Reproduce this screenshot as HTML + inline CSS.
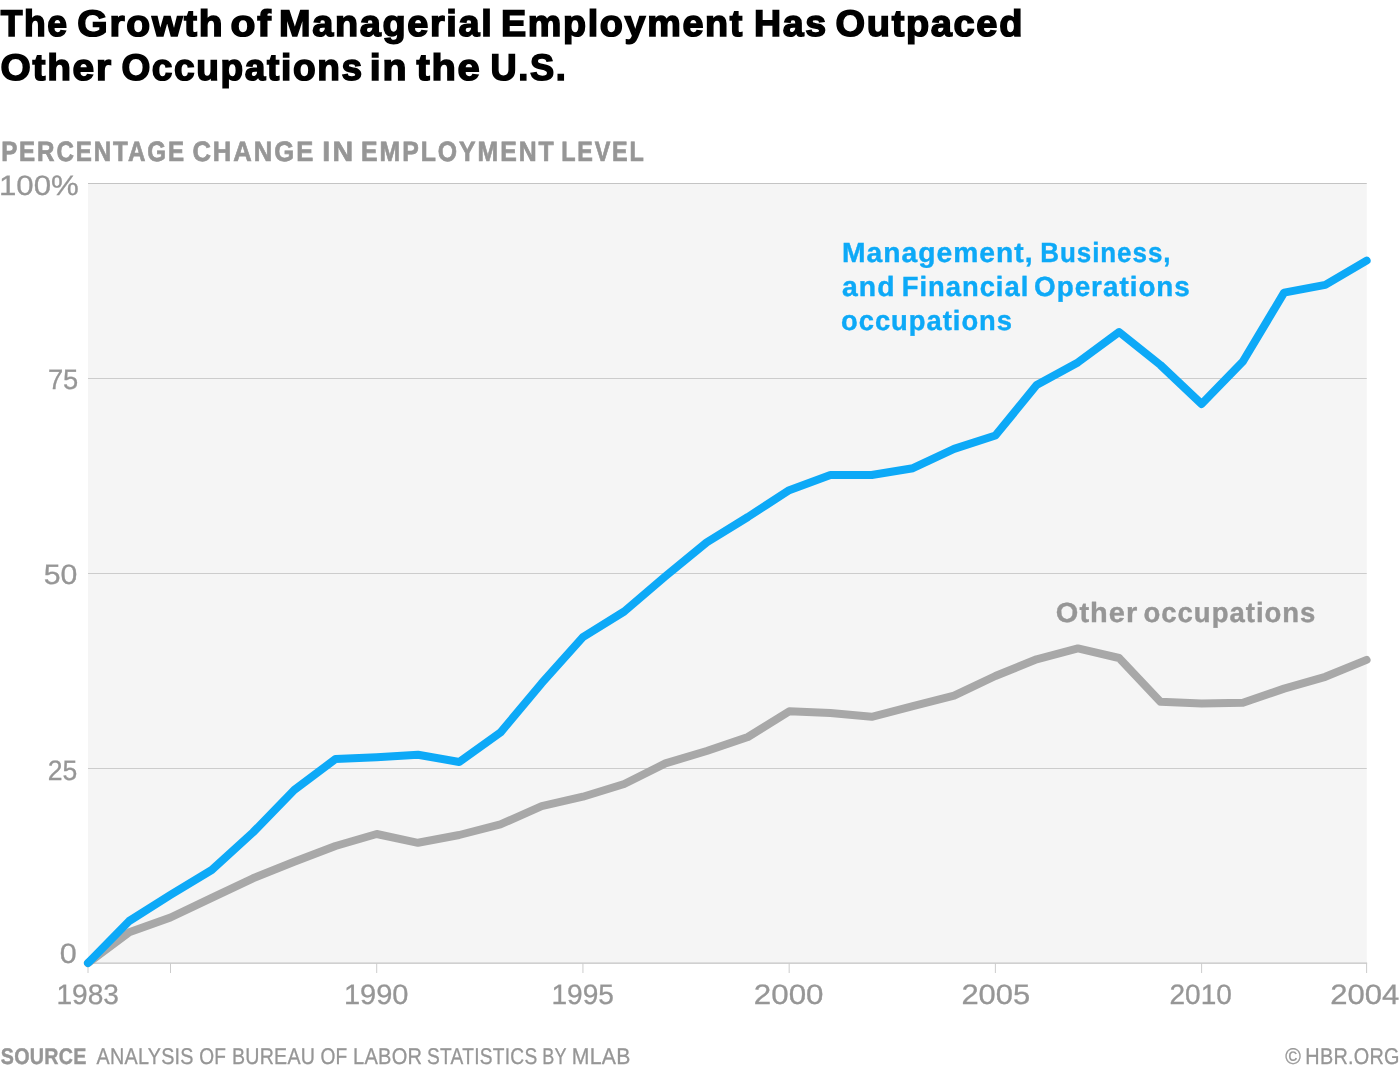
<!DOCTYPE html>
<html lang="en">
<head>
<meta charset="utf-8">
<title>The Growth of Managerial Employment Has Outpaced Other Occupations in the U.S.</title>
<style>
  html, body { margin:0; padding:0; background:#fff; }
  body { width:1400px; height:1071px; overflow:hidden; position:relative; font-family:"Liberation Sans", sans-serif; }
  svg { position:absolute; left:0; top:0; display:block; }
  text { font-family:"Liberation Sans", sans-serif; white-space:pre; stroke-linejoin:miter; stroke-miterlimit:3; text-rendering:geometricPrecision; }
</style>
</head>
<body>
<svg width="1400" height="1071" viewBox="0 0 1400 1071">
  <rect x="0" y="0" width="1400" height="1071" fill="#ffffff"/>
  <rect x="88" y="183" width="1278.75" height="780" fill="#f5f5f5"/>
  <g stroke="#cccccc" stroke-width="1">
    <line x1="88" y1="183.5" x2="1366.75" y2="183.5" stroke="#c4c4c4"/>
    <line x1="88" y1="378.5" x2="1366.75" y2="378.5"/>
    <line x1="88" y1="573.5" x2="1366.75" y2="573.5"/>
    <line x1="88" y1="768.5" x2="1366.75" y2="768.5"/>
    <line x1="87.5" y1="962.5" x2="1367.1" y2="962.5" stroke="#dddddd"/>
    <line x1="87.5" y1="963.5" x2="1367.1" y2="963.5" stroke="#d0d0d0"/>
    <line x1="88.00" y1="963" x2="88.00" y2="973"/>
    <line x1="170.49" y1="963" x2="170.49" y2="973"/>
    <line x1="376.71" y1="963" x2="376.71" y2="973"/>
    <line x1="582.94" y1="963" x2="582.94" y2="973"/>
    <line x1="789.16" y1="963" x2="789.16" y2="973"/>
    <line x1="995.39" y1="963" x2="995.39" y2="973"/>
    <line x1="1201.62" y1="963" x2="1201.62" y2="973"/>
    <line x1="1366.60" y1="963" x2="1366.60" y2="973"/>
  </g>
  <path d="M88.0,963.0 L129.2,932.3 L170.5,917.5 L211.7,897.8 L253.0,878.3 L294.2,861.7 L335.5,846.0 L376.7,834.0 L418.0,842.8 L459.2,835.0 L500.4,824.4 L541.7,806.2 L582.9,796.7 L624.2,784.0 L665.4,763.4 L706.7,751.0 L747.9,737.0 L789.2,711.3 L830.4,713.0 L871.7,716.8 L912.9,706.2 L954.1,695.7 L995.4,676.0 L1036.6,659.3 L1077.9,648.4 L1119.1,658.0 L1160.4,701.7 L1201.6,703.4 L1242.9,702.8 L1284.1,688.6 L1325.3,676.8 L1366.6,659.9" fill="none" stroke="#a8a8a8" stroke-width="8" stroke-linecap="round" stroke-linejoin="round"/>
  <path d="M88.0,963.0 L129.2,921.0 L170.5,894.9 L211.7,870.0 L253.0,832.4 L294.2,790.0 L335.5,759.0 L376.7,757.3 L418.0,754.7 L459.2,762.0 L500.4,732.6 L541.7,683.2 L582.9,637.1 L624.2,611.5 L665.4,576.3 L706.7,542.3 L747.9,517.0 L789.2,490.2 L830.4,475.0 L871.7,475.0 L912.9,468.2 L954.1,448.9 L995.4,435.5 L1036.6,385.0 L1077.9,362.4 L1119.1,332.0 L1160.4,365.0 L1201.6,404.0 L1242.9,361.5 L1284.1,292.6 L1325.3,284.9 L1366.6,260.6" fill="none" stroke="#0da9f7" stroke-width="8" stroke-linecap="round" stroke-linejoin="round"/>
  <text y="36.05" font-size="37" font-weight="bold" letter-spacing="1.6" fill="#000" stroke="#000" stroke-width="1.5"><tspan x="0.80" textLength="67.93" lengthAdjust="spacingAndGlyphs">The</tspan> <tspan x="77.34" textLength="146.92" lengthAdjust="spacingAndGlyphs">Growth</tspan> <tspan x="230.50" textLength="42.04" lengthAdjust="spacingAndGlyphs">of</tspan> <tspan x="278.95" textLength="214.43" lengthAdjust="spacingAndGlyphs">Managerial</tspan> <tspan x="500.96" textLength="243.11" lengthAdjust="spacingAndGlyphs">Employment</tspan> <tspan x="753.97" textLength="73.76" lengthAdjust="spacingAndGlyphs">Has</tspan> <tspan x="835.57" textLength="188.46" lengthAdjust="spacingAndGlyphs">Outpaced</tspan></text>
  <text y="79.85" font-size="37" font-weight="bold" letter-spacing="1.6" fill="#000" stroke="#000" stroke-width="1.5"><tspan x="0.55" textLength="112.23" lengthAdjust="spacingAndGlyphs">Other</tspan> <tspan x="121.40" textLength="242.31" lengthAdjust="spacingAndGlyphs">Occupations</tspan> <tspan x="369.87" textLength="38.42" lengthAdjust="spacingAndGlyphs">in</tspan> <tspan x="416.40" textLength="65.10" lengthAdjust="spacingAndGlyphs">the</tspan> <tspan x="490.62" textLength="76.67" lengthAdjust="spacingAndGlyphs">U.S.</tspan></text>
  <text y="160.50" font-size="28" font-weight="bold" letter-spacing="2.2" fill="#969696" stroke="#969696" stroke-width="0.7"><tspan x="1.14" textLength="184.82" lengthAdjust="spacingAndGlyphs">PERCENTAGE</tspan> <tspan x="192.39" textLength="122.94" lengthAdjust="spacingAndGlyphs">CHANGE</tspan> <tspan x="322.38" textLength="33.10" lengthAdjust="spacingAndGlyphs">IN</tspan> <tspan x="361.11" textLength="194.57" lengthAdjust="spacingAndGlyphs">EMPLOYMENT</tspan> <tspan x="561.17" textLength="84.50" lengthAdjust="spacingAndGlyphs">LEVEL</tspan></text>
  <text y="194.70" font-size="28.1" fill="#969696" stroke="#969696" stroke-width="0.3"><tspan x="-1.02" textLength="79.77" lengthAdjust="spacingAndGlyphs">100%</tspan></text>
  <text y="388.70" font-size="28.1" fill="#969696" stroke="#969696" stroke-width="0.3"><tspan x="47.93" textLength="30.39" lengthAdjust="spacingAndGlyphs">75</tspan></text>
  <text y="583.70" font-size="28.1" fill="#969696" stroke="#969696" stroke-width="0.3"><tspan x="43.82" textLength="33.62" lengthAdjust="spacingAndGlyphs">50</tspan></text>
  <text y="779.70" font-size="28.1" fill="#969696" stroke="#969696" stroke-width="0.3"><tspan x="47.86" textLength="29.53" lengthAdjust="spacingAndGlyphs">25</tspan></text>
  <text y="962.90" font-size="28.1" fill="#969696" stroke="#969696" stroke-width="0.3"><tspan x="59.71" textLength="16.96" lengthAdjust="spacingAndGlyphs">0</tspan></text>
  <text y="1003.70" font-size="28.1" fill="#969696" stroke="#969696" stroke-width="0.3"><tspan x="56.50" textLength="62.50" lengthAdjust="spacingAndGlyphs">1983</tspan></text>
  <text y="1003.70" font-size="28.1" fill="#969696" stroke="#969696" stroke-width="0.3"><tspan x="343.93" textLength="64.58" lengthAdjust="spacingAndGlyphs">1990</tspan></text>
  <text y="1003.70" font-size="28.1" fill="#969696" stroke="#969696" stroke-width="0.3"><tspan x="551.50" textLength="62.50" lengthAdjust="spacingAndGlyphs">1995</tspan></text>
  <text y="1003.70" font-size="28.1" fill="#969696" stroke="#969696" stroke-width="0.3"><tspan x="753.89" textLength="69.67" lengthAdjust="spacingAndGlyphs">2000</tspan></text>
  <text y="1003.70" font-size="28.1" fill="#969696" stroke="#969696" stroke-width="0.3"><tspan x="961.40" textLength="68.75" lengthAdjust="spacingAndGlyphs">2005</tspan></text>
  <text y="1003.70" font-size="28.1" fill="#969696" stroke="#969696" stroke-width="0.3"><tspan x="1169.50" textLength="62.30" lengthAdjust="spacingAndGlyphs">2010</tspan></text>
  <text y="1003.70" font-size="28.1" fill="#969696" stroke="#969696" stroke-width="0.3"><tspan x="1330.20" textLength="68.95" lengthAdjust="spacingAndGlyphs">2004</tspan></text>
  <text y="262.05" font-size="27.8" font-weight="bold" letter-spacing="1.0" fill="#0da9f7" stroke="#0da9f7" stroke-width="0.4"><tspan x="841.98" textLength="191.60" lengthAdjust="spacingAndGlyphs">Management,</tspan> <tspan x="1040.26" textLength="131.21" lengthAdjust="spacingAndGlyphs">Business,</tspan></text>
  <text y="295.70" font-size="27.8" font-weight="bold" letter-spacing="1.0" fill="#0da9f7" stroke="#0da9f7" stroke-width="0.4"><tspan x="842.00" textLength="53.47" lengthAdjust="spacingAndGlyphs">and</tspan> <tspan x="901.72" textLength="127.55" lengthAdjust="spacingAndGlyphs">Financial</tspan> <tspan x="1034.00" textLength="156.85" lengthAdjust="spacingAndGlyphs">Operations</tspan></text>
  <text y="329.60" font-size="27.8" font-weight="bold" letter-spacing="1.0" fill="#0da9f7" stroke="#0da9f7" stroke-width="0.4"><tspan x="841.02" textLength="171.98" lengthAdjust="spacingAndGlyphs">occupations</tspan></text>
  <text y="621.90" font-size="27.8" font-weight="bold" letter-spacing="1.0" fill="#969696" stroke="#969696" stroke-width="0.4"><tspan x="1055.86" textLength="82.43" lengthAdjust="spacingAndGlyphs">Other</tspan> <tspan x="1143.51" textLength="172.89" lengthAdjust="spacingAndGlyphs">occupations</tspan></text>
  <text y="1063.80" font-size="22.8" letter-spacing="0.3" fill="#969696" stroke="#969696" stroke-width="0.3"><tspan x="0.80" textLength="85.81" lengthAdjust="spacingAndGlyphs" font-weight="bold" font-size="22.6" stroke-width="0.4">SOURCE</tspan> <tspan x="96.60" textLength="97.16" lengthAdjust="spacingAndGlyphs">ANALYSIS</tspan> <tspan x="199.16" textLength="27.00" lengthAdjust="spacingAndGlyphs">OF</tspan> <tspan x="231.88" textLength="83.28" lengthAdjust="spacingAndGlyphs">BUREAU</tspan> <tspan x="320.46" textLength="27.10" lengthAdjust="spacingAndGlyphs">OF</tspan> <tspan x="353.04" textLength="69.34" lengthAdjust="spacingAndGlyphs">LABOR</tspan> <tspan x="427.06" textLength="110.37" lengthAdjust="spacingAndGlyphs">STATISTICS</tspan> <tspan x="542.34" textLength="24.26" lengthAdjust="spacingAndGlyphs">BY</tspan> <tspan x="571.74" textLength="58.85" lengthAdjust="spacingAndGlyphs">MLAB</tspan></text>
  <text y="1063.80" font-size="22.8" letter-spacing="0.3" fill="#969696" stroke="#969696" stroke-width="0.3"><tspan x="1285.20" textLength="15.63" lengthAdjust="spacingAndGlyphs" letter-spacing="0">©</tspan> <tspan x="1305.36" textLength="94.45" lengthAdjust="spacingAndGlyphs">HBR.ORG</tspan></text>
</svg>
</body>
</html>
